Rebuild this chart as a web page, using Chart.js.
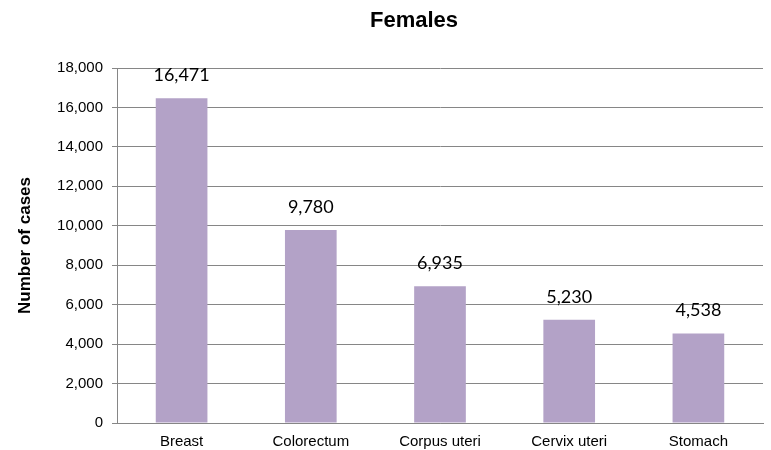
<!DOCTYPE html>
<html>
<head>
<meta charset="utf-8">
<script src="https://cdn.jsdelivr.net/npm/chart.js@4.4.0/dist/chart.umd.min.js"></script>
<style>
  html, body { margin: 0; padding: 0; background: #fff; }
  #wrap { width: 771px; height: 450px; position: relative; }
</style>
</head>
<body>
<div id="wrap"><canvas id="c" width="771" height="450"></canvas></div>
<script>
const chartTitle = "Females";
const yAxisTitle = "Number of cases";
const categories = ["Breast", "Colorectum", "Corpus uteri", "Cervix uteri", "Stomach"];
const caseCounts = [16471, 9780, 6935, 5230, 4538];
const yMin = 0;
const yMax = 18000;
const yStep = 2000;

const titlePlugin = {
  id: 'customTitle',
  afterDraw(chart) {
    const ctx = chart.ctx;
    ctx.save();
    ctx.font = 'bold 22px "Liberation Sans", Arial, sans-serif';
    ctx.fillStyle = '#000';
    ctx.textAlign = 'center';
    ctx.textBaseline = 'middle';
    ctx.fillText(chartTitle, 414, 21);
    ctx.restore();
  }
};

const valueLabels = {
  id: 'valueLabels',
  afterDatasetsDraw(chart) {
    const ctx = chart.ctx;
    ctx.save();
    ctx.font = '18px "Lato", "Open Sans", sans-serif';
    ctx.fillStyle = '#000';
    ctx.textAlign = 'center';
    ctx.textBaseline = 'middle';
    const meta = chart.getDatasetMeta(0);
    meta.data.forEach((bar, i) => {
      ctx.fillText(caseCounts[i].toLocaleString('en-US'), bar.x, bar.y - 23);
    });
    ctx.restore();
  }
};

new Chart(document.getElementById('c'), {
  type: 'bar',
  data: {
    labels: categories,
    datasets: [{
      data: caseCounts,
      backgroundColor: '#B3A2C7',
      borderWidth: 0,
      categoryPercentage: 1.0,
      barPercentage: 0.4
    }]
  },
  options: {
    responsive: false,
    animation: false,
    devicePixelRatio: 1,
    layout: { padding: { left: 0, right: 8, top: 68, bottom: 0 } },
    plugins: {
      legend: { display: false },
      title: { display: false },
      tooltip: { enabled: false }
    },
    scales: {
      x: {
        grid: { display: false, drawTicks: false },
        border: { display: true, color: '#868686', width: 1 },
        ticks: {
          color: '#000',
          font: { family: '"Liberation Sans", Arial, sans-serif', size: 15 },
          padding: 10,
          maxRotation: 0
        },
        afterFit(scale) { scale.height = 27; }
      },
      y: {
        min: yMin,
        max: yMax,
        grid: { color: '#868686', lineWidth: 1, drawTicks: true, tickLength: 5 },
        border: { display: true, color: '#868686', width: 1 },
        ticks: {
          stepSize: yStep,
          color: '#000',
          padding: 9,
          font: { family: '"Liberation Sans", Arial, sans-serif', size: 15 },
          callback: v => v.toLocaleString('en-US')
        },
        title: {
          display: true,
          text: yAxisTitle,
          color: '#000',
          font: { family: '"Liberation Sans", Arial, sans-serif', size: 17, weight: 'bold' },
          padding: { top: 15, bottom: 0 }
        },
        afterFit(scale) { scale.width = 117; }
      }
    }
  },
  plugins: [titlePlugin, valueLabels]
});
</script>
</body>
</html>
